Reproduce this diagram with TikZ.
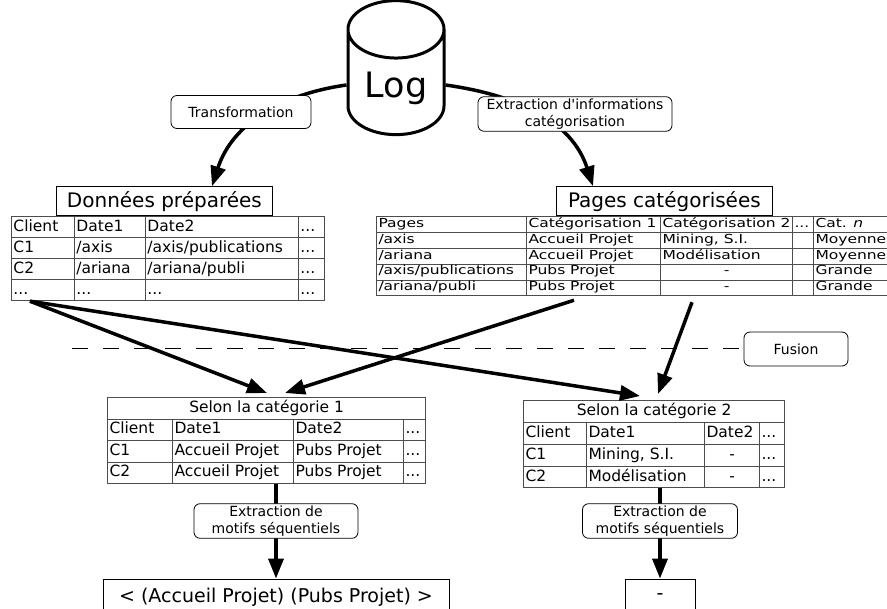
\documentclass[tikz,border=0pt]{standalone}
\usepackage{fontspec}
\setmainfont{DejaVu Sans}
\usepackage{array,colortbl,graphicx}
\usetikzlibrary{arrows.meta,shapes.geometric}

% table look
\setlength{\arrayrulewidth}{0.8pt}
\arrayrulecolor{black!70}
\setlength{\tabcolsep}{1.5pt}
\newcolumntype{L}[1]{>{\raggedright\arraybackslash}p{\dimexpr#1pt-3.8pt\relax}}
\newcommand{\cdash}{\hfill-\hfill\mbox{}}

\begin{document}
\begin{tikzpicture}[
	x=1pt, y=1pt,
	% Define the styles
	flow/.style={line width=3.5pt, -{Triangle[length=20pt,width=15pt]}},
	lbl/.style={draw, rounded corners=6pt, fill=white, line width=0.8pt, inner sep=2pt,
		align=center, font=\fontsize{14}{17}\selectfont},
	ttl/.style={draw, line width=0.8pt, inner sep=0pt, minimum width=216pt,
		minimum height=29pt, font=\fontsize{20}{24}\selectfont},
	res/.style={draw, line width=0.8pt, inner sep=0pt, minimum height=36pt,
		font=\fontsize{19}{23}\selectfont},
	tbl/.style={inner sep=0pt, anchor=north west},
	sepline/.style={line width=1pt, dash pattern=on 16pt off 15pt}
	]
	\useasboundingbox (0,0) rectangle (887,-609);
	
	% --- SOURCE ---
	\node[cylinder, shape border rotate=90, draw, line width=3pt, aspect=0.83,
		minimum width=96pt, minimum height=134pt,
		font=\fontsize{35}{40}\selectfont] (log) at (396,-88) {Log};
	
	% --- TABLES ---
	\node[ttl, anchor=south west] (hprep) at (56,-216) {Données préparées};
	\node[tbl] (tprep) at (11,-216) {\fontsize{15.5}{20.2}\selectfont
		\begin{tabular}{|L{63}|L{71}|L{153}|L{26}|}\hline
			Client & Date1 & Date2 & ...\\\hline
			C1 & /axis & /axis/publications & ...\\\hline
			C2 & /ariana & /ariana/publi & ...\\\hline
			... & ... & ... & ...\\\hline
		\end{tabular}};
	
	\node[ttl, anchor=south west] (hpages) at (556,-216) {Pages catégorisées};
	\node[tbl] (tpages) at (376,-216) {\scalebox{1}[0.8]{\fontsize{15.5}{19}\selectfont
		\begin{tabular}{|L{150}|L{134}|L{132}|L{21}|L{90}|}\hline
			Pages & Catégorisation 1 & Catégorisation 2 & ... & Cat. \textit{n}\\\hline
			/axis & Accueil Projet & Mining, S.I. & & Moyenne\\\hline
			/ariana & Accueil Projet & Modélisation & & Moyenne\\\hline
			/axis/publications & Pubs Projet & \cdash & & Grande\\\hline
			/ariana/publi & Pubs Projet & \cdash & & Grande\\\hline
		\end{tabular}}};
	
	\node[tbl] (tcatA) at (107,-397) {\fontsize{15.5}{20.7}\selectfont
		\begin{tabular}{|L{65}|L{121}|L{110}|L{22}|}\hline
			\multicolumn{4}{|c|}{Selon la catégorie 1}\\\hline
			Client & Date1 & Date2 & ...\\\hline
			C1 & Accueil Projet & Pubs Projet & ...\\\hline
			C2 & Accueil Projet & Pubs Projet & ...\\\hline
		\end{tabular}};
	
	\node[tbl] (tcatB) at (523,-400) {\fontsize{15.5}{21}\selectfont
		\begin{tabular}{|L{63}|L{118}|L{55}|L{25}|}\hline
			\multicolumn{4}{|c|}{Selon la catégorie 2}\\\hline
			Client & Date1 & Date2 & ...\\\hline
			C1 & Mining, S.I. & \cdash & ...\\\hline
			C2 & Modélisation & \cdash & ...\\\hline
		\end{tabular}};
	
	% --- RESULTS ---
	\node[res, minimum width=346pt] (resA) at (276,-597) {< (Accueil Projet) (Pubs Projet) >};
	\node[res, minimum width=70pt] (resB) at (660,-597) {-};
	
	% --- EDGES ---
	\draw[flow] ([yshift=3pt]log.west) to[out=188, in=72] ([xshift=156pt]hprep.north west);
	\draw[flow] ([yshift=3pt]log.east) to[out=-8, in=108] ([xshift=37pt]hpages.north west);
	
	\coordinate (dstart) at (72,-349);
	\node[lbl, minimum width=104pt, minimum height=34pt] (fusion) at (796,-349) {Fusion};
	\draw[sepline] (dstart) -- (fusion.west);
	
	\draw[flow] ([xshift=19pt]tprep.south west) -- ([xshift=160pt,yshift=4pt]tcatA.north west);
	\draw[flow] ([xshift=19pt]tprep.south west) -- ([xshift=117pt,yshift=4pt]tcatB.north west);
	\draw[flow] ([xshift=198pt,yshift=-4pt]tpages.south west) -- ([xshift=178pt,yshift=4pt]tcatA.north west);
	\draw[flow] ([xshift=316pt,yshift=-6pt]tpages.south west) -- ([xshift=135pt,yshift=6pt]tcatB.north west);
	
	\draw[flow] (tcatA.south -| resA.north) -- (resA.north);
	\draw[flow] (tcatB.south -| resB.north) -- (resB.north);
	
	% --- LABELS ---
	\node[lbl, minimum width=140pt, minimum height=33pt] (ltransf) at (241,-112) {Transformation};
	\node[lbl, minimum width=194pt, minimum height=34pt] (lextr) at (575,-114)
		{Extraction d\textquotesingle informations\\catégorisation};
	\node[lbl, minimum width=164pt, minimum height=34pt] (exA) at (276,-521) {Extraction de\\motifs séquentiels};
	\node[lbl, minimum width=155pt, minimum height=34pt] (exB) at (660,-521) {Extraction de\\motifs séquentiels};
	
\end{tikzpicture}
\end{document}
